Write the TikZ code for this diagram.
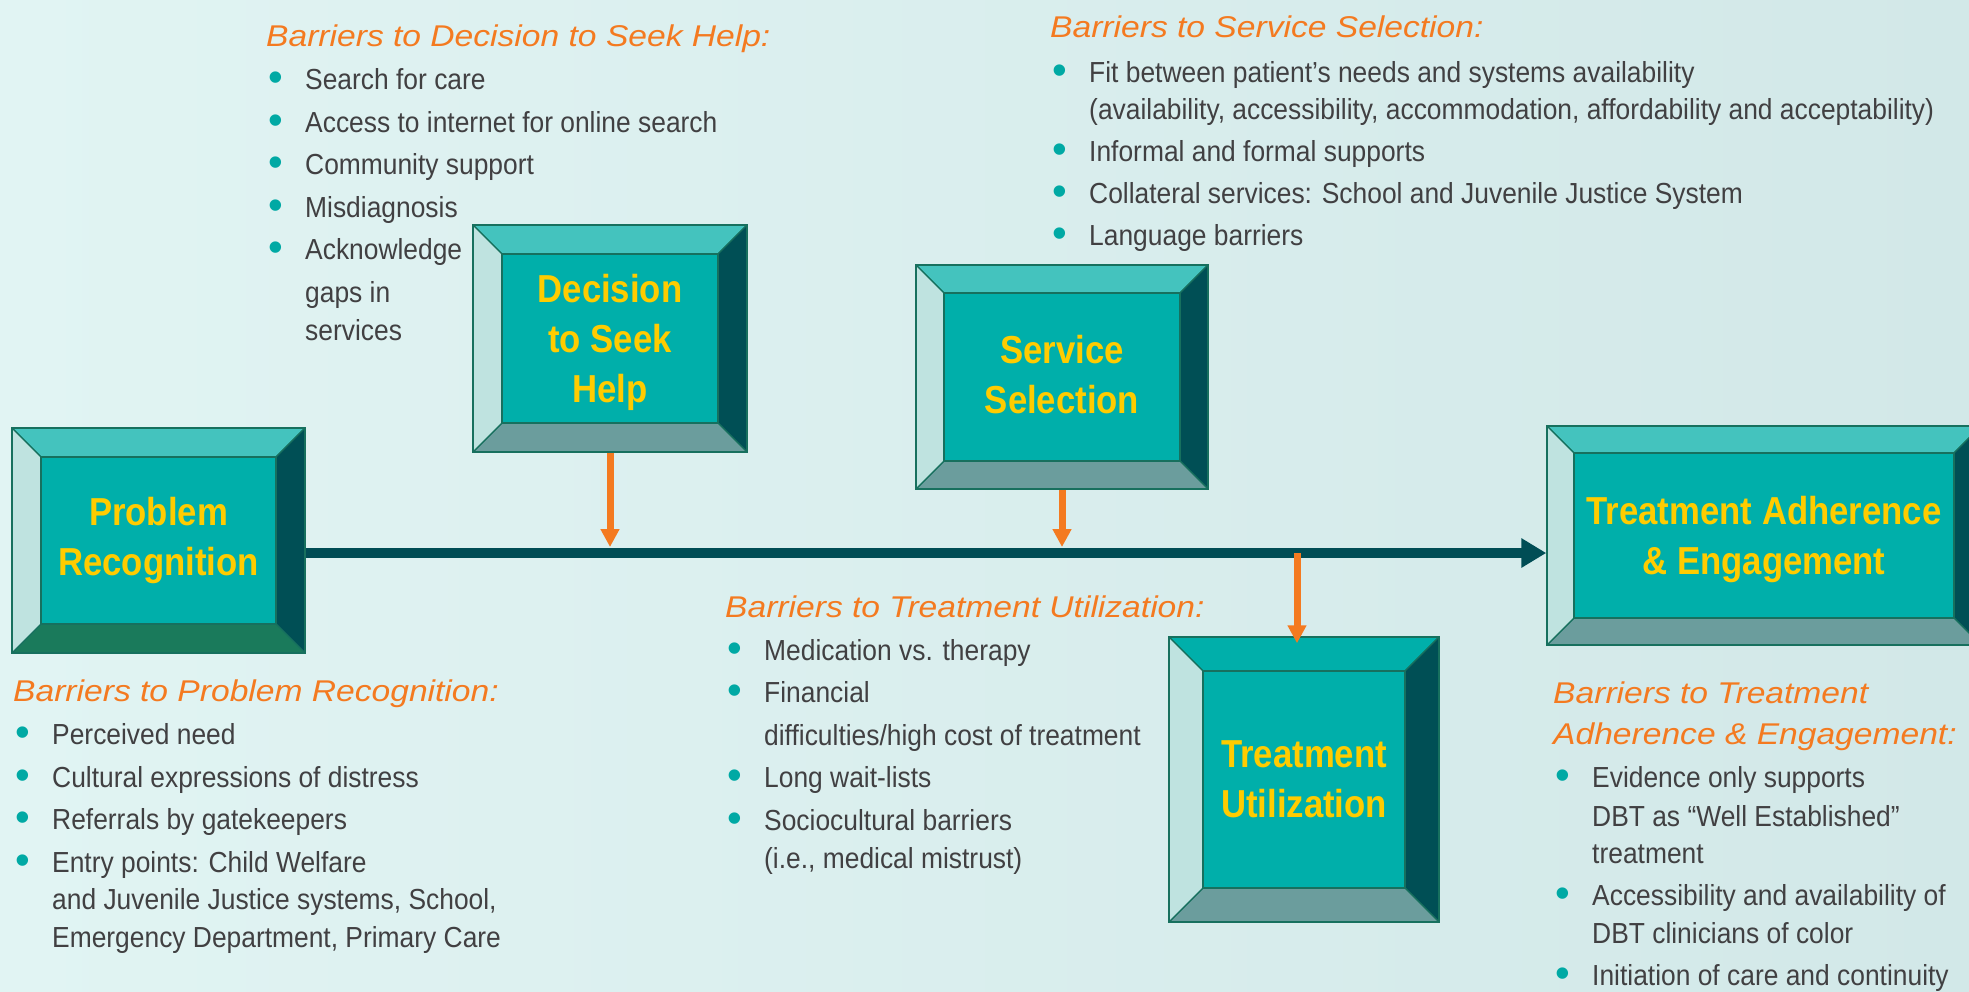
\documentclass[tikz,border=0pt]{standalone}
\usepackage{fontspec}
\setmainfont{Liberation Sans}
\newfontfamily\bodyfont[FakeStretch=0.91]{Liberation Sans}
\newfontfamily\headfont[FakeStretch=1.12]{Liberation Sans}
\newfontfamily\stagefont[FakeStretch=0.89]{Liberation Sans}
\usetikzlibrary{arrows.meta,positioning}
\definecolor{bgleft}{HTML}{E1F4F3}
\definecolor{bgright}{HTML}{D2E8E8}
\definecolor{sface}{HTML}{00AFAA}
\definecolor{stop}{HTML}{44C3BE}
\definecolor{sleft}{HTML}{BFE3E0}
\definecolor{sright}{HTML}{004F55}
\definecolor{sbottom}{HTML}{6B9D9D}
\definecolor{sgreen}{HTML}{1A7A5B}
\definecolor{sedge}{HTML}{17705E}
\definecolor{gold}{HTML}{FFCC00}
\definecolor{ohead}{HTML}{F47A20}
\definecolor{gtext}{HTML}{414042}
\definecolor{dteal}{HTML}{00A9A4}
\definecolor{axisteal}{HTML}{004D55}

% list helpers
\newcommand{\bul}{\makebox[39pt][l]{\hspace{2pt}\raisebox{-2pt}{\normalfont\fontsize{42}{42}\selectfont\textcolor{dteal}{•}}}}
\newcommand{\cont}{\hspace*{39pt}}
\newcommand{\barhead}[1]{{\fontsize{30}{37.5}\headfont\itshape\textcolor{ohead}{#1}}}

\begin{document}
\begin{tikzpicture}[
  x=1pt, y=1pt,
  bevel/.store in=\bevdepth,
  bevel top/.store in=\bevtop,
  bevel bottom/.store in=\bevbottom,
  bevel=29, bevel top=stop, bevel bottom=sbottom,
  facet/.style={draw=sedge, line width=1.3pt},
  stage/.style={
    rectangle, inner sep=0pt, align=center,
    draw=sedge, line width=1.5pt,
    text=gold, font=\fontsize{39}{50}\stagefont\bfseries,
    path picture={
      \path (path picture bounding box.north west) coordinate (o1)
            (path picture bounding box.north east) coordinate (o2)
            (path picture bounding box.south east) coordinate (o3)
            (path picture bounding box.south west) coordinate (o4)
            ([shift={(\bevdepth,-\bevdepth)}]o1) coordinate (i1)
            ([shift={(-\bevdepth,-\bevdepth)}]o2) coordinate (i2)
            ([shift={(-\bevdepth,\bevdepth)}]o3) coordinate (i3)
            ([shift={(\bevdepth,\bevdepth)}]o4) coordinate (i4);
      \filldraw[facet, fill=\bevtop] (o1) -- (o2) -- (i2) -- (i1) -- cycle;
      \filldraw[facet, fill=sright] (o2) -- (o3) -- (i3) -- (i2) -- cycle;
      \filldraw[facet, fill=\bevbottom] (o3) -- (o4) -- (i4) -- (i3) -- cycle;
      \filldraw[facet, fill=sleft] (o4) -- (o1) -- (i1) -- (i4) -- cycle;
      \filldraw[facet, fill=sface] (i1) rectangle (i3);
    }
  },
  % base of a list node is the baseline of its last line
  barrier/.style={
    anchor=base west, align=left, inner sep=0pt,
    text=gtext, font=\fontsize{29}{37.5}\bodyfont
  },
  mainflow/.style={draw=axisteal, line width=10pt,
    -{Triangle[length=25pt, width=28pt]}},
  drop/.style={draw=ohead, line width=7pt,
    -{Triangle[length=18pt, width=18pt]}}
]

\useasboundingbox (0,0) rectangle (1969,-991);
\shade[left color=bgleft, right color=bgright] (0,0) rectangle (1969,-991);

% the five stages
\node[stage, bevel bottom=sgreen, minimum width=293pt, minimum height=225pt]
  (probrec) at (158.5,-540.5) {Problem\\Recognition};
\node[stage, text depth=-4pt, minimum width=274pt, minimum height=227pt]
  (decide) at (610,-338.5) {Decision\\to Seek\\Help};
\node[stage, bevel=28, text depth=6pt, minimum width=292pt, minimum height=224pt]
  (servsel) at (1062,-377) {Service\\Selection};
\node[stage, bevel=34, bevel top=sface, minimum width=270pt, minimum height=285pt]
  (treatutil) at (1304,-779.5) {Treatment\\Utilization};
\node[stage, bevel=27, text depth=1pt, minimum width=434pt, minimum height=219pt]
  (adhere) at (1764,-535.5) {Treatment Adherence\\\& Engagement};

% pathway axis and the barriers dropping onto it
\coordinate (axis) at (0,-553);
\draw[mainflow] (probrec.east |- axis) -- (adhere.west |- axis);
\draw[drop] (decide.south) -- ([yshift=6pt]decide.south |- axis);
\draw[drop] (servsel.south) -- ([yshift=6pt]servsel.south |- axis);
\draw[drop] ([xshift=-7pt]treatutil.north |- axis)
  -- ([xshift=-7pt, yshift=-7pt]treatutil.north);

% barrier lists
\node[barrier] (decidebar) at (266,-340) {
  \barhead{Barriers to Decision to Seek Help:}\\[6pt]
  \bul Search for care\\[5pt]
  \bul Access to internet for online search\\[5pt]
  \bul Community support\\[5pt]
  \bul Misdiagnosis\\[5pt]
  \bul Acknowledge\\[5.5pt]
  \cont gaps in\\
  \cont services
};

\node[barrier] (servbar) at (1050,-245) {
  \barhead{Barriers to Service Selection:}\\[7pt]
  \bul Fit between patient’s needs and systems availability\\
  \cont (availability, accessibility, accommodation, affordability and acceptability)\\[4.5pt]
  \bul Informal and formal supports\\[4pt]
  \bul Collateral services: School and Juvenile Justice System\\[4.5pt]
  \bul Language barriers
};

\node[barrier] (utilbar) at (725,-868) {
  \barhead{Barriers to Treatment Utilization:}\\[5.5pt]
  \bul Medication vs. therapy\\[4.5pt]
  \bul Financial\\[5.5pt]
  \cont difficulties/high cost of treatment\\[4pt]
  \bul Long wait-lists\\[6pt]
  \bul Sociocultural barriers\\
  \cont (i.e., medical mistrust)
};

\node[barrier] (probbar) at (13,-947) {
  \barhead{Barriers to Problem Recognition:}\\[6pt]
  \bul Perceived need\\[5pt]
  \bul Cultural expressions of distress\\[5pt]
  \bul Referrals by gatekeepers\\[5pt]
  \bul Entry points: Child Welfare\\
  \cont and Juvenile Justice systems, School,\\
  \cont Emergency Department, Primary Care
};

\node[barrier] (adherebar) at (1553,-985) {
  \barhead{Barriers to Treatment}\\[3.5pt]
  \barhead{Adherence \& Engagement:}\\[5.5pt]
  \bul Evidence only supports\\[1.5pt]
  \cont DBT as “Well Established”\\
  \cont treatment\\[4.5pt]
  \bul Accessibility and availability of\\
  \cont DBT clinicians of color\\[4.5pt]
  \bul Initiation of care and continuity
};

\end{tikzpicture}
\end{document}
